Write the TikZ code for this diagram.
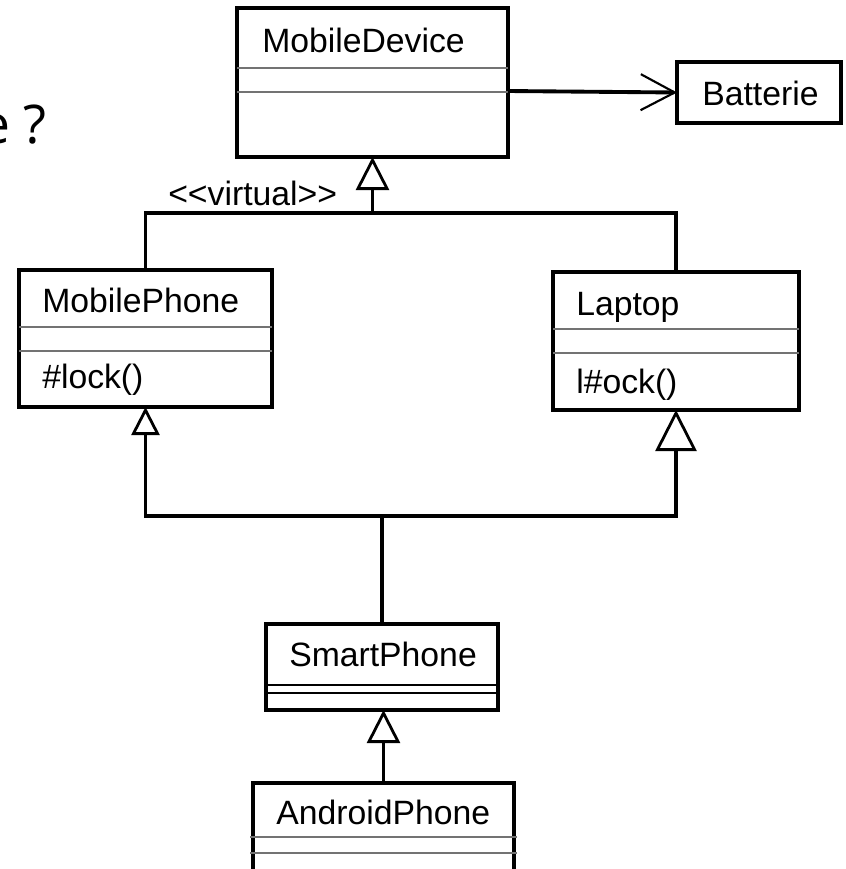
\documentclass[tikz,border=0pt]{standalone}
\usepackage{fontspec}
\setmainfont{Liberation Sans}
\newfontfamily\qfont{Open Sans}
\usetikzlibrary{arrows.meta}
\tikzset{
 cls/.style={draw, line width=3.2pt, inner sep=0pt, outer sep=0pt},
 lbl/.style={anchor=base west, inner sep=0pt, font=\fontsize{25.3}{30}\selectfont},
 comp/.style={line width=1.1pt, draw=black!55},
 compk/.style={line width=1.1pt, draw=black},
 conn/.style={line width=2.9pt},
 gen/.style={conn, -{Triangle[open, length=#1, width=#1, line width=2.1pt]}},
 assoc/.style={conn, -{Straight Barb[length=25.5pt, width=27pt, line width=1.6pt]}},
}
\begin{document}
\begin{tikzpicture}[x=0.75pt,y=-0.75pt]
\path[use as bounding box] (0,0) rectangle (846,869);
\clip (0,0) rectangle (846,869);

% fragment of slide text
\node[anchor=base east, inner sep=0pt, font=\qfont\fontsize{40}{48}\selectfont] (q) at (47,143) {e ?};

% class boxes
\node[cls, minimum width=203.25pt, minimum height=111.75pt] (md) at (372.5,82.5) {};
\node[cls, minimum width=123pt, minimum height=45.75pt] (bat) at (759,92.5) {};
\node[cls, minimum width=189.75pt, minimum height=102.75pt] (mp) at (145.5,338.5) {};
\node[cls, minimum width=184.5pt, minimum height=103.5pt] (lt) at (676,341) {};
\node[cls, minimum width=174pt, minimum height=64.5pt] (sp) at (382,667) {};
\node[cls, minimum width=195.75pt, minimum height=87.75pt] (ap) at (383.5,841.5) {};

% compartments
\draw[comp] (md.west |- 0,68) -- (md.east |- 0,68);
\draw[comp] (md.west |- 0,92) -- (md.east |- 0,92);
\draw[comp] (mp.west |- 0,327) -- (mp.east |- 0,327);
\draw[comp] (mp.west |- 0,351) -- (mp.east |- 0,351);
\draw[comp] (lt.west |- 0,329) -- (lt.east |- 0,329);
\draw[comp] (lt.west |- 0,353) -- (lt.east |- 0,353);
\draw[compk] (sp.west |- 0,685) -- (sp.east |- 0,685);
\draw[compk] (sp.west |- 0,693) -- (sp.east |- 0,693);
\draw[comp] ([xshift=-2.25pt]ap.west |- 0,837) -- ([xshift=2.25pt]ap.east |- 0,837);
\draw[comp] ([xshift=-2.25pt]ap.west |- 0,853) -- ([xshift=2.25pt]ap.east |- 0,853);

% labels
\node[lbl] (tmd) at (262,52) {MobileDevice};
\node[lbl] (tbat) at (702,105) {Batterie};
\node[lbl] (tmp) at (42,312) {MobilePhone};
\node[lbl] (tmpo) at (42,388) {\#lock()};
\node[lbl] (tlt) at (576,315) {Laptop};
\node[lbl] (tlto) at (576,393) {l\#ock()};
\node[lbl] (tsp) at (289,666) {SmartPhone};
\node[lbl] (tap) at (276,824) {AndroidPhone};
\node[lbl] (tvirt) at (168,205) {<{}<virtual>{}>};

% connectors
\coordinate (jt) at (372.5,213);
\coordinate (jb) at (382,516);
\coordinate (mdr) at (508,91);
\draw[conn] (mp.north) |- (jt) -| (lt.north);
\draw[gen=24.75pt] (jt) -- (md.south);
\draw[conn] (sp.north) -- (jb);
\draw[gen=21pt] (jb) -| (mp.south);
\draw[gen=30.75pt] (jb) -| (lt.south);
\draw[gen=24.75pt] (ap.north) -- (ap.north |- sp.south);
\draw[assoc] (mdr) -- (bat.west);
\end{tikzpicture}
\end{document}
